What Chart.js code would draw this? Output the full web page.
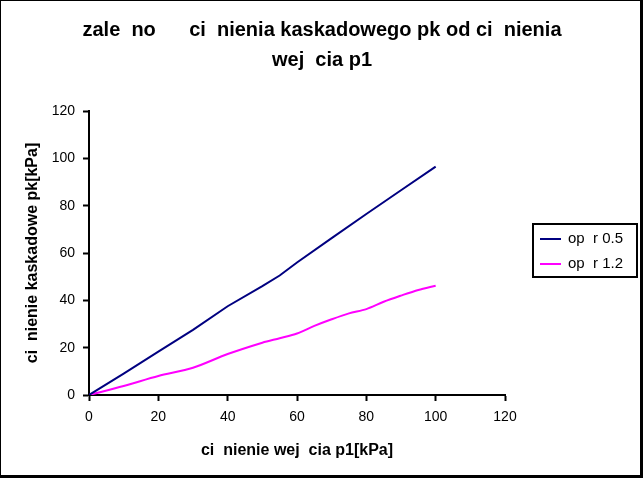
<!DOCTYPE html>
<html>
<head>
<meta charset="utf-8">
<script src="https://cdn.jsdelivr.net/npm/chart.js@4/dist/chart.umd.min.js"></script>
<style>
  html, body { margin: 0; padding: 0; background: #fff; }
  #wrap { width: 644px; height: 479px; }
</style>
</head>
<body>
<div id="wrap"><canvas id="chart" width="644" height="479"></canvas></div>
<script>
// chart texts
const titleLines = ['zale  no      ci  nienia kaskadowego pk od ci  nienia', 'wej  cia p1'];
const xTitle = 'ci  nienie wej  cia p1[kPa]';
const yTitle = 'ci  nienie kaskadowe pk[kPa]';
const seriesNames = ['op  r 0.5', 'op  r 1.2'];

// series 1 (opor 0.5)
const x1 = [0, 10, 20, 30, 40, 50, 55, 60, 70, 80, 90, 100];
const y1 = [0, 9, 18.3, 27.5, 37.5, 46, 50.5, 56, 66.3, 76.5, 86.5, 96.5];

// series 2 (opor 1.2)
const x2 = [0, 10, 20, 30, 40, 50, 55, 60, 65, 70, 75, 80, 85, 90, 95, 100];
const y2 = [0, 3.8, 8, 11.5, 17.3, 22.1, 24, 26, 29.2, 32, 34.5, 36.3, 39.4, 42, 44.4, 46.2];

// axis range / ticks
const axisMin = 0, axisMax = 120, axisStep = 20;

const colors = ['#000080', '#FF00FF'];
const FONT = 'Liberation Sans, Arial, sans-serif';

function toPoints(xs, ys) {
    return xs.map((x, i) => ({ x: x, y: ys[i] }));
}

// white background, centred title and outer black frame
const framePlugin = {
    id: 'frame',
    beforeDraw(chart) {
        const ctx = chart.ctx;
        ctx.save();
        ctx.fillStyle = '#fff';
        ctx.fillRect(0, 0, chart.width, chart.height);
        ctx.restore();
    },
    afterDraw(chart) {
        const ctx = chart.ctx;
        ctx.save();
        // title over the whole width of the picture
        ctx.fillStyle = '#000';
        ctx.font = 'bold 20px ' + FONT;
        ctx.textAlign = 'center';
        ctx.textBaseline = 'middle';
        titleLines.forEach((line, i) => ctx.fillText(line, 322, 30 + i * 30));
        // frame
        ctx.fillRect(0, 0, chart.width - 2, 1);
        ctx.fillRect(0, 0, 1, chart.height - 2);
        ctx.fillRect(chart.width - 4, 0, 3, chart.height - 1);
        ctx.fillRect(0, chart.height - 4, chart.width - 1, 3);
        ctx.restore();
    }
};

// legend box on the right, like the original
const boxLegend = {
    id: 'boxLegend',
    afterDraw(chart) {
        const ctx = chart.ctx;
        const left = 533, top = 224, w = 104, h = 53;
        ctx.save();
        ctx.strokeStyle = '#000';
        ctx.lineWidth = 2;
        ctx.strokeRect(left, top, w, h);
        ctx.font = '15px ' + FONT;
        ctx.textBaseline = 'middle';
        ctx.fillStyle = '#000';
        chart.data.datasets.forEach((ds, i) => {
            const y = top + 15 + i * 25;
            ctx.strokeStyle = ds.borderColor;
            ctx.lineWidth = 2;
            ctx.beginPath();
            ctx.moveTo(540, y);
            ctx.lineTo(561, y);
            ctx.stroke();
            ctx.fillText(ds.label, 568, y);
        });
        ctx.restore();
    }
};

const ctx = document.getElementById('chart').getContext('2d');
new Chart(ctx, {
    type: 'scatter',
    data: {
        datasets: [
            {
                label: seriesNames[0],
                data: toPoints(x1, y1),
                showLine: true,
                borderColor: colors[0],
                backgroundColor: colors[0],
                borderWidth: 2,
                pointRadius: 0,
                tension: 0
            },
            {
                label: seriesNames[1],
                data: toPoints(x2, y2),
                showLine: true,
                borderColor: colors[1],
                backgroundColor: colors[1],
                borderWidth: 2,
                pointRadius: 0,
                tension: 0.3
            }
        ]
    },
    options: {
        responsive: false,
        animation: false,
        layout: { padding: { left: 0, right: 139, top: 111, bottom: 0 } },
        plugins: {
            legend: { display: false },
            tooltip: { enabled: false },
            title: { display: false }
        },
        scales: {
            x: {
                type: 'linear',
                min: axisMin,
                max: axisMax,
                ticks: { stepSize: axisStep, color: '#000', padding: 8, font: { family: FONT, size: 14 } },
                grid: { drawOnChartArea: false, tickLength: 6, tickColor: '#000', tickWidth: 2 },
                border: { color: '#000', width: 2 },
                title: {
                    display: true,
                    text: xTitle,
                    color: '#000',
                    font: { family: FONT, size: 16, weight: 'bold' },
                    padding: { top: 10, bottom: 19 }
                },
                afterFit(scale) { scale.height = 84; }
            },
            y: {
                type: 'linear',
                min: axisMin,
                max: axisMax,
                ticks: { stepSize: axisStep, color: '#000', padding: 8, font: { family: FONT, size: 14 } },
                grid: { drawOnChartArea: false, tickLength: 6, tickColor: '#000', tickWidth: 2 },
                border: { color: '#000', width: 2 },
                title: {
                    display: true,
                    text: yTitle,
                    color: '#000',
                    font: { family: FONT, size: 16, weight: 'bold' },
                    padding: { top: 23, bottom: 4 }
                },
                afterFit(scale) { scale.width = 89; }
            }
        }
    },
    plugins: [framePlugin, boxLegend]
});
</script>
</body>
</html>
